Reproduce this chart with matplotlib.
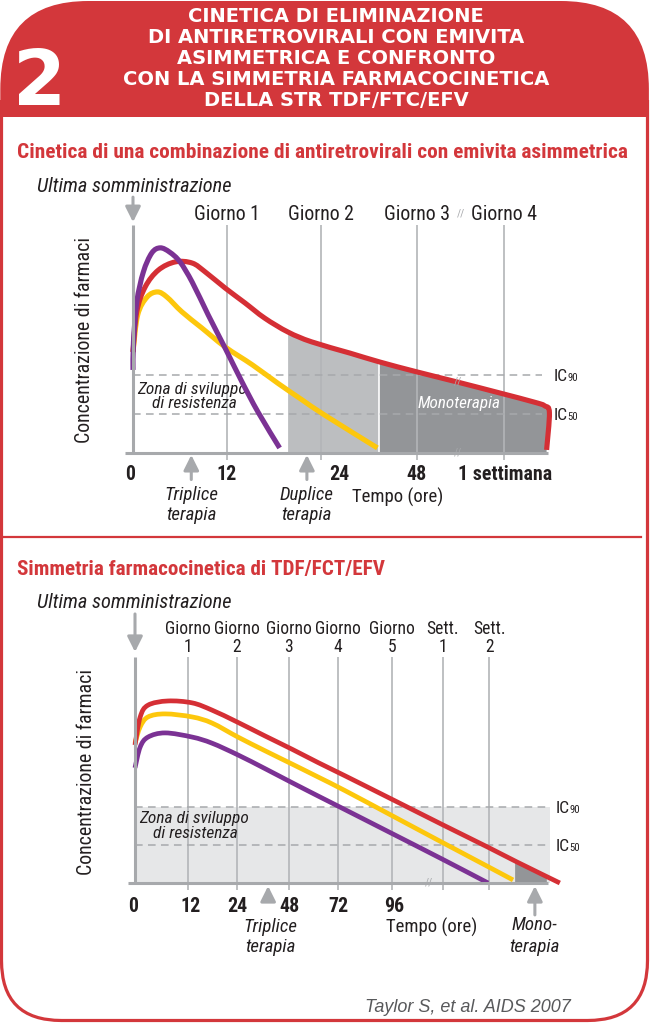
import matplotlib
matplotlib.use("Agg")
import matplotlib.pyplot as plt
import numpy as np
from matplotlib import font_manager as fm
from matplotlib.patches import FancyBboxPatch, Rectangle, Polygon, PathPatch
from matplotlib.path import Path
from matplotlib.transforms import offset_copy

# font stretta (tipo Helvetica Condensed) se disponibile
fonts = [(f.name, f.stretch) for f in fm.fontManager.ttflist]
names = {n for n, _ in fonts}
NARROW, STRETCH = 'Liberation Sans', 'normal'
for cand in ['Liberation Sans Narrow', 'Roboto Condensed', 'Open Sans Condensed',
             'Noto Sans Condensed', 'DejaVu Sans Condensed']:
    if cand in names:
        NARROW, STRETCH = cand, 'normal'
        break
else:
    for fam in ['Noto Sans', 'Roboto', 'Open Sans', 'DejaVu Sans']:
        if any(n == fam and s in ('condensed', 'semi-condensed', 'extra-condensed', 75, 87)
               for n, s in fonts):
            NARROW, STRETCH = fam, 'condensed'
            break
plt.rcParams['font.family'] = [NARROW, 'DejaVu Sans']
plt.rcParams['font.stretch'] = STRETCH

W, H = 658, 1023

RED = '#d3373b'
CURVE_RED = '#d52f35'
YELLOW = '#fdc70c'
PURPLE = '#7b3294'
LIGHT = '#bcbec0'
DARK = '#939598'
BAND = '#e6e7e8'
GRID = '#b3b5b8'
AXIS = '#a7a9ac'
TEXT = '#231f20'

# --- grafico 1: x = colonne (giorni), y = concentrazione (IC50 = 1, IC90 = 2)
top_grid = [1.0, 2.0, 3.02, 3.95]
top_grid_labels = ['Giorno 1', 'Giorno 2', 'Giorno 3', 'Giorno 4']
top_ticks = [-0.03, 1.0, 2.2, 3.02, 3.96]
top_tick_labels = ['0', '12', '24', '48', '1 settimana']
top_red_x = [0, 0.04, 0.13, 0.27, 0.45, 0.63, 0.77, 0.98, 1.19, 1.40, 1.65, 1.90,
             2.31, 2.63, 3.02, 3.45, 3.90, 4.26, 4.38, 4.43, 4.40]
top_red_y = [2.59, 3.62, 4.26, 4.69, 4.90, 4.87, 4.64, 4.23, 3.85, 3.46, 3.10, 2.85,
             2.56, 2.33, 2.08, 1.82, 1.54, 1.31, 1.21, 1.03, 0.08]
top_yellow_x = [0, 0.05, 0.15, 0.26, 0.36, 0.52, 0.73, 0.98, 1.27, 1.54, 1.80, 2.04, 2.60]
top_yellow_y = [2.59, 3.54, 4.0, 4.13, 4.0, 3.62, 3.21, 2.72, 2.26, 1.79, 1.36, 0.97, 0.13]
top_purple_x = [0, 0.005, 0.04, 0.11, 0.20, 0.29, 0.39, 0.50, 0.63, 0.80, 0.98, 1.16, 1.33, 1.56]
top_purple_y = [2.13, 2.85, 3.87, 4.64, 5.13, 5.26, 5.15, 4.90, 4.38, 3.54, 2.69, 1.82, 1.05, 0.13]
top_duplice = (1.65, 2.617)
top_therapy_x = [0.62, 1.85]
top_therapy = [('Triplice', 'terapia'), ('Duplice', 'terapia')]

# --- grafico 2
bot_grid = [1.02, 1.96, 2.96, 3.90, 4.94, 5.92, 6.81]
bot_grid_labels = [('Giorno', '1'), ('Giorno', '2'), ('Giorno', '3'), ('Giorno', '4'),
                   ('Giorno', '5'), ('Sett.', '1'), ('Sett.', '2')]
bot_ticks = [-0.04, 1.06, 1.96, 2.98, 3.92, 4.98]
bot_tick_labels = ['0', '12', '24', '48', '72', '96']
bot_red_x = [0, 0.10, 0.25, 0.63, 1.10, 1.48, 1.96, 2.50, 3.02, 3.52, 4.04, 4.96, 5.92, 6.79, 7.35, 8.17]
bot_red_y = [3.63, 4.37, 4.68, 4.79, 4.74, 4.55, 4.24, 3.87, 3.52, 3.17, 2.82, 2.19, 1.53, 0.94, 0.55, 0.0]
bot_yellow_x = [0, 0.10, 0.25, 0.58, 1.10, 1.48, 1.98, 2.50, 3.02, 3.52, 4.04, 4.96, 5.92, 6.79, 7.27]
bot_yellow_y = [3.68, 4.11, 4.37, 4.45, 4.37, 4.21, 3.84, 3.48, 3.13, 2.79, 2.43, 1.76, 1.06, 0.43, 0.08]
bot_purple_x = [0, 0.10, 0.25, 0.58, 1.10, 1.48, 1.98, 2.50, 3.02, 3.52, 4.04, 4.96, 5.92, 6.79]
bot_purple_y = [3.03, 3.58, 3.84, 3.95, 3.84, 3.68, 3.37, 3.01, 2.64, 2.29, 1.93, 1.29, 0.62, 0.0]
bot_band_end = 7.98
bot_mono = (7.31, 7.92)

IC50, IC90 = 1.0, 2.0

title_lines = ['CINETICA DI ELIMINAZIONE', 'DI ANTIRETROVIRALI CON EMIVITA',
               'ASIMMETRICA E CONFRONTO', 'CON LA SIMMETRIA FARMACOCINETICA',
               'DELLA STR TDF/FTC/EFV']

fig = plt.figure(figsize=(W / 100, H / 100), dpi=100)
bg = fig.add_axes([0, 0, 1, 1])
bg.set_xlim(0, W)
bg.set_ylim(H, 0)
bg.axis('off')
renderer = fig.canvas.get_renderer()


def size_for(s, width, **kw):
    # dimensione del font che dà al testo la larghezza in pixel del riferimento
    t = bg.text(0, 0, s, fontsize=10, **kw)
    w = t.get_window_extent(renderer).width
    t.remove()
    return 10 * width / w


def chart_axes(x0, base, sx, sy, xlim, ylim):
    l = x0 + xlim[0] * sx
    r = x0 + xlim[1] * sx
    b = base - ylim[0] * sy
    t = base - ylim[1] * sy
    ax = fig.add_axes([l / W, 1 - b / H, (r - l) / W, (b - t) / H])
    ax.set_xlim(*xlim)
    ax.set_ylim(*ylim)
    ax.axis('off')
    return ax


FS_GIORNO = min(size_for('Giorno 1', 66), 16)
FS_TICK = min(size_for('1 settimana', 94, fontweight='bold'), 16)
FS_TEMPO = min(size_for('Tempo (ore)', 91), 16)
FS_THER = min(size_for('Triplice', 54, style='italic'), 16)
FS_ZONA = min(size_for('Zona di sviluppo', 109, style='italic'), 14)
FS_MONO = min(size_for('Monoterapia', 83, style='italic'), 14)
FS_YLAB = min(size_for('Concentrazione di farmaci', 205), 16)
FS_GIORNO2 = min(size_for('Giorno', 46), 16)
FS_IC = FS_GIORNO * 0.88
FS_ULT = size_for('Ultima somministrazione', 195, style='italic')

# cornice e testata
frame = FancyBboxPatch((1.5, 2), 646, 1018.5, boxstyle='round,pad=0,rounding_size=60',
                       fc='white', ec=RED, lw=2.3)
bg.add_patch(frame)
frame.set_clip_path(Rectangle((0, 100), W, H, transform=bg.transData))
head = FancyBboxPatch((0.3, 1), 648.6, 400, boxstyle='round,pad=0,rounding_size=88',
                      fc=RED, ec='none')
bg.add_patch(head)
head.set_clip_path(Rectangle((0, 0), W, 117, transform=bg.transData))

for i, s in enumerate(title_lines):
    bg.text(336, 17 + i * 20.8, s, ha='center', va='center', color='white',
            family='DejaVu Sans', stretch='normal', fontweight='bold', fontsize=14)
bg.text(13, 105, '2', ha='left', va='baseline', color='white', family='DejaVu Sans',
        stretch='normal', fontweight='bold', fontsize=55)

bg.text(17, 152, 'Cinetica di una combinazione di antiretrovirali con emivita asimmetrica',
        ha='left', va='center', color=RED, fontweight='bold',
        fontsize=size_for('Cinetica di una combinazione di antiretrovirali con emivita asimmetrica',
                          611, fontweight='bold'))
bg.text(17, 570, 'Simmetria farmacocinetica di TDF/FCT/EFV', ha='left', va='center',
        color=RED, fontweight='bold',
        fontsize=size_for('Simmetria farmacocinetica di TDF/FCT/EFV', 367, fontweight='bold'))
bg.plot([3, 641], [537, 537], color=RED, lw=1.6)

for y in (186, 603):
    bg.text(37, y, 'Ultima somministrazione', ha='left', va='center', color=TEXT,
            style='italic', fontsize=FS_ULT)
bg.text(85, 340, 'Concentrazione di farmaci', rotation=90, ha='center', va='center',
        color=TEXT, fontsize=FS_YLAB)
bg.text(86, 772, 'Concentrazione di farmaci', rotation=90, ha='center', va='center',
        color=TEXT, fontsize=FS_YLAB)
bg.text(365, 1008, 'Taylor S, et al. AIDS 2007', ha='left', va='center', color='#58595b',
        family=['Liberation Sans', 'DejaVu Sans'], stretch='normal', style='italic',
        fontsize=size_for('Taylor S, et al. AIDS 2007', 207, family='Liberation Sans',
                          stretch='normal', style='italic'))

ARROW = dict(arrowstyle='-|>,head_length=0.7,head_width=0.35', color=AXIS, lw=2.2,
             mutation_scale=13, shrinkA=0, shrinkB=0)


def ic_labels(ax, x, levels):
    for lvl, sub in levels:
        t = ax.text(x, lvl, 'IC', ha='left', va='baseline', color=TEXT, fontsize=FS_IC,
                    transform=offset_copy(ax.transData, fig=fig, x=0, y=-6, units='dots'))
        w = t.get_window_extent(renderer).width
        ax.text(x, lvl, sub, ha='left', va='baseline', color=TEXT, fontsize=FS_IC * 0.62,
                transform=offset_copy(ax.transData, fig=fig, x=w + 0.3, y=-6, units='dots'))


def smooth_path(x, y):
    # curva di Bezier (Catmull-Rom) che passa per i punti letti
    p = np.column_stack([x, y]).astype(float)
    n = len(p)
    verts, codes = [p[0]], [Path.MOVETO]
    for i in range(n - 1):
        p0 = p[i - 1] if i > 0 else p[i]
        p3 = p[i + 2] if i + 2 < n else p[i + 1]
        verts += [p[i] + (p[i + 1] - p0) / 6, p[i + 1] - (p3 - p[i]) / 6, p[i + 1]]
        codes += [Path.CURVE4] * 3
    return Path(verts, codes)


def curves(ax, data, lw):
    for i, (x, y, c) in enumerate(data):
        ax.add_patch(PathPatch(smooth_path(x, y), fill=False, ec=c, lw=lw, capstyle='butt',
                               joinstyle='round', zorder=3 + i * 0.1, clip_on=False))


def slashes(ax, x, y):
    ax.text(x, y, '//', ha='center', va='center', color=AXIS, fontsize=8, zorder=5)


# ---------------- grafico 1
ax1 = chart_axes(133, 453, 94, 39, (-0.15, 4.65), (-0.6, 5.95))
rx, ry = np.array(top_red_x), np.array(top_red_y)
a, b = top_duplice
ya = np.interp(a, rx[:-2], ry[:-2])
yb = np.interp(b, rx[:-2], ry[:-2])
m = (rx > a) & (rx < b)
ax1.add_patch(Polygon([(a, 0), (a, ya)] + list(zip(rx[m], ry[m])) + [(b, yb), (b, 0)],
                      closed=True, fc=LIGHT, ec='none', zorder=1))
m2 = rx > b
ax1.add_patch(Polygon([(b, 0), (b, yb)] + list(zip(rx[m2], ry[m2])) + [(rx[-1], 0)],
                      closed=True, fc=DARK, ec='none', zorder=1))
ax1.vlines(b, 0, yb, color='white', lw=1.2, zorder=1.5)
ax1.vlines(top_grid, -0.18, 5.85, color=GRID, lw=1.2, zorder=2)
ax1.hlines([IC50, IC90], 0, 4.35, colors=AXIS, linestyles=(0, (5, 3.5)), lw=1.1, zorder=2)
curves(ax1, [(top_yellow_x, top_yellow_y, YELLOW), (top_red_x, top_red_y, CURVE_RED),
             (top_purple_x, top_purple_y, PURPLE)], 3.7)
ax1.plot([0, 0], [0, 5.85], color=AXIS, lw=2.2, zorder=4, solid_capstyle='butt')
ax1.plot([-0.085, 4.41], [0, 0], color=AXIS, lw=2.2, zorder=4, solid_capstyle='butt')
for x, s in zip(top_grid, top_grid_labels):
    ax1.text(x, 5.98, s, ha='center', va='baseline', color=TEXT, fontsize=FS_GIORNO)
slashes(ax1, 3.49, 6.15)
for x, s in zip(top_ticks, top_tick_labels):
    ax1.text(x, -0.54, s, ha='center', va='center', color=TEXT, fontsize=FS_TICK,
             fontweight='bold')
for x, (l1, l2) in zip(top_therapy_x, top_therapy):
    ax1.annotate('', xy=(x, -0.05), xytext=(x, -0.68), arrowprops=ARROW, annotation_clip=False)
    ax1.text(x, -1.08, l1, ha='center', va='center', color=TEXT, fontsize=FS_THER, style='italic')
    ax1.text(x, -1.59, l2, ha='center', va='center', color=TEXT, fontsize=FS_THER, style='italic')
ax1.annotate('', xy=(0, 5.92), xytext=(0, 6.56), arrowprops=ARROW, annotation_clip=False)
ax1.text(2.81, -1.15, 'Tempo (ore)', ha='center', va='center', color=TEXT, fontsize=FS_TEMPO)
ax1.text(0.63, 1.64, 'Zona di sviluppo', ha='center', va='center', color=TEXT,
         fontsize=FS_ZONA, style='italic')
ax1.text(0.65, 1.28, 'di resistenza', ha='center', va='center', color=TEXT,
         fontsize=FS_ZONA, style='italic')
ax1.text(3.47, 1.28, 'Monoterapia', ha='center', va='center', color='white',
         fontsize=FS_MONO, style='italic')
slashes(ax1, 3.46, 0)
slashes(ax1, 3.46, 1.84)
ic_labels(ax1, 4.47, [(IC90, '90'), (IC50, '50')])

# ---------------- grafico 2
ax2 = chart_axes(135, 883, 52, 38, (-0.2, 8.5), (-0.6, 6.05))
ax2.fill_between([0, bot_band_end], 0, IC90, color=BAND, lw=0, zorder=1)
bx, by = np.array(bot_red_x), np.array(bot_red_y)
c0, c1 = bot_mono
mm = (bx > c0) & (bx < c1)
ax2.add_patch(Polygon([(c0, 0), (c0, np.interp(c0, bx, by))] + list(zip(bx[mm], by[mm]))
                      + [(c1, np.interp(c1, bx, by)), (c1, 0)],
                      closed=True, fc=DARK, ec='none', zorder=1.2))
ax2.vlines(bot_grid, -0.18, 5.95, color=GRID, lw=1.2, zorder=2)
ax2.hlines([IC50, IC90], 0, bot_band_end, colors=AXIS, linestyles=(0, (5, 3.5)), lw=1.1, zorder=2)
curves(ax2, [(bot_purple_x, bot_purple_y, PURPLE), (bot_yellow_x, bot_yellow_y, YELLOW),
             (bot_red_x, bot_red_y, CURVE_RED)], 3.4)
ax2.plot([0, 0], [0, 5.95], color=AXIS, lw=2.2, zorder=4, solid_capstyle='butt')
ax2.plot([-0.13, 7.94], [0, 0], color=AXIS, lw=2.2, zorder=4, solid_capstyle='butt')
for x, (l1, l2) in zip(bot_grid, bot_grid_labels):
    ax2.text(x, 6.68, l1, ha='center', va='center', color=TEXT, fontsize=FS_GIORNO2)
    ax2.text(x, 6.21, l2, ha='center', va='center', color=TEXT, fontsize=FS_GIORNO2)
for x, s in zip(bot_ticks, bot_tick_labels):
    ax2.text(x, -0.61, s, ha='center', va='center', color=TEXT, fontsize=FS_TICK,
             fontweight='bold')
ax2.annotate('', xy=(0, 6.08), xytext=(0, 7.08), arrowprops=ARROW, annotation_clip=False)
ax2.annotate('', xy=(2.56, -0.08), xytext=(2.56, -0.45), arrowprops=ARROW, annotation_clip=False)
ax2.annotate('', xy=(7.69, -0.08), xytext=(7.69, -0.84), arrowprops=ARROW, annotation_clip=False)
ax2.text(2.6, -1.16, 'Triplice', ha='center', va='center', color=TEXT, fontsize=FS_THER, style='italic')
ax2.text(2.6, -1.68, 'terapia', ha='center', va='center', color=TEXT, fontsize=FS_THER, style='italic')
ax2.text(7.69, -1.10, 'Mono-', ha='center', va='center', color=TEXT, fontsize=FS_THER, style='italic')
ax2.text(7.69, -1.68, 'terapia', ha='center', va='center', color=TEXT, fontsize=FS_THER, style='italic')
ax2.text(5.71, -1.18, 'Tempo (ore)', ha='center', va='center', color=TEXT, fontsize=FS_TEMPO)
ax2.text(1.13, 1.71, 'Zona di sviluppo', ha='center', va='center', color=TEXT,
         fontsize=FS_ZONA, style='italic')
ax2.text(1.17, 1.29, 'di resistenza', ha='center', va='center', color=TEXT,
         fontsize=FS_ZONA, style='italic')
slashes(ax2, 5.65, 0)
ic_labels(ax2, 8.08, [(IC90, '90'), (IC50, '50')])

fig.savefig('out.png', dpi=100)
